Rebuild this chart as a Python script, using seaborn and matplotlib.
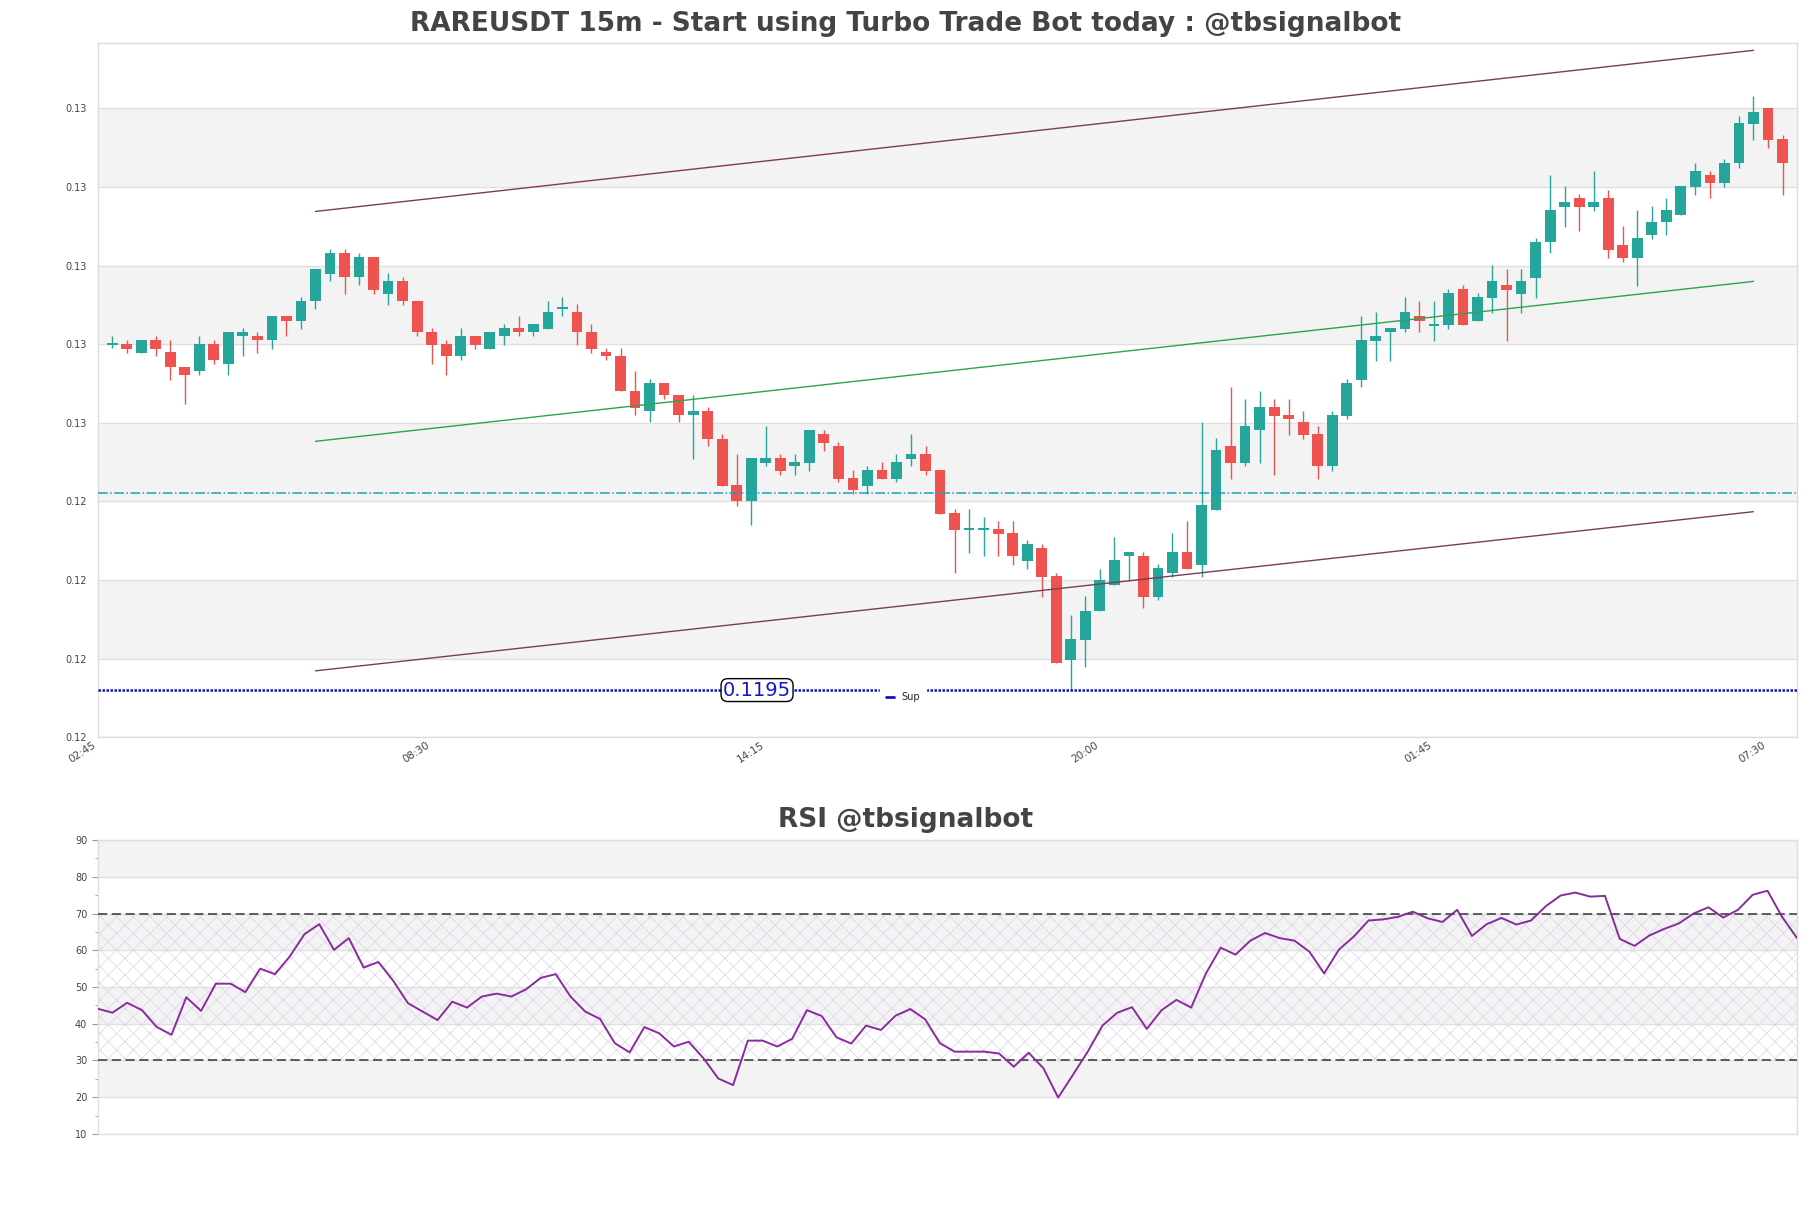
import numpy as np
import pandas as pd
import matplotlib
matplotlib.use('Agg')
import matplotlib.pyplot as plt
from matplotlib.lines import Line2D
from matplotlib.ticker import MultipleLocator
import seaborn as sns

# RAREUSDT 15m candles (03:00 -> 07:45 next day)
opens = [0.12830, 0.12831, 0.12809, 0.12841, 0.12811, 0.12773, 0.12761, 0.12831, 0.12781, 0.12850,
         0.12851, 0.12840, 0.12902, 0.12890, 0.12939, 0.13010, 0.13063, 0.13000, 0.13053, 0.12959,
         0.12991, 0.12941, 0.12862, 0.12831, 0.12799, 0.12851, 0.12819, 0.12850, 0.12872, 0.12860,
         0.12870, 0.12922, 0.12913, 0.12862, 0.12811, 0.12801, 0.12712, 0.12659, 0.12732, 0.12701,
         0.12649, 0.12660, 0.12590, 0.12472, 0.12430, 0.12529, 0.12541, 0.12519, 0.12529, 0.12602,
         0.12571, 0.12490, 0.12470, 0.12511, 0.12488, 0.12539, 0.12551, 0.12511, 0.12401, 0.12359,
         0.12359, 0.12360, 0.12350, 0.12279, 0.12312, 0.12240, 0.12027, 0.12078, 0.12150, 0.12218,
         0.12290, 0.12291, 0.12188, 0.12249, 0.12302, 0.12269, 0.12409, 0.12571, 0.12529, 0.12611,
         0.12671, 0.12650, 0.12632, 0.12602, 0.12519, 0.12648, 0.12740, 0.12839, 0.12860, 0.12870,
         0.12902, 0.12879, 0.12880, 0.12971, 0.12890, 0.12948, 0.12981, 0.12959, 0.12999, 0.13090,
         0.13180, 0.13202, 0.13180, 0.13202, 0.13083, 0.13050, 0.13109, 0.13140, 0.13160, 0.13231,
         0.13261, 0.13241, 0.13290, 0.13391, 0.13431, 0.13352]
highs = [0.12851, 0.12841, 0.12841, 0.12851, 0.12841, 0.12773, 0.12851, 0.12841, 0.12862, 0.12872,
         0.12862, 0.12902, 0.12902, 0.12951, 0.13022, 0.13073, 0.13073, 0.13063, 0.13053, 0.13012,
         0.13002, 0.12941, 0.12872, 0.12841, 0.12872, 0.12851, 0.12862, 0.12882, 0.12902, 0.12882,
         0.12941, 0.12951, 0.12933, 0.12882, 0.12820, 0.12820, 0.12763, 0.12742, 0.12732, 0.12701,
         0.12701, 0.12671, 0.12602, 0.12551, 0.12541, 0.12622, 0.12551, 0.12551, 0.12612, 0.12612,
         0.12581, 0.12511, 0.12521, 0.12530, 0.12551, 0.12602, 0.12571, 0.12511, 0.12410, 0.12410,
         0.12390, 0.12380, 0.12380, 0.12332, 0.12322, 0.12249, 0.12141, 0.12190, 0.12259, 0.12340,
         0.12302, 0.12302, 0.12271, 0.12350, 0.12380, 0.12632, 0.12592, 0.12721, 0.12691, 0.12711,
         0.12691, 0.12691, 0.12660, 0.12622, 0.12660, 0.12742, 0.12902, 0.12912, 0.12872, 0.12950,
         0.12940, 0.12940, 0.12971, 0.12981, 0.12961, 0.13032, 0.13022, 0.13022, 0.13101, 0.13261,
         0.13233, 0.13212, 0.13271, 0.13223, 0.13131, 0.13172, 0.13182, 0.13202, 0.13233, 0.13291,
         0.13271, 0.13302, 0.13412, 0.13462, 0.13431, 0.13363]
lows = [0.12820, 0.12809, 0.12809, 0.12799, 0.12740, 0.12679, 0.12751, 0.12781, 0.12751, 0.12799,
        0.12809, 0.12819, 0.12850, 0.12870, 0.12921, 0.12990, 0.12959, 0.12980, 0.12959, 0.12931,
        0.12931, 0.12850, 0.12781, 0.12751, 0.12789, 0.12819, 0.12819, 0.12829, 0.12850, 0.12850,
        0.12870, 0.12901, 0.12829, 0.12809, 0.12789, 0.12710, 0.12649, 0.12631, 0.12690, 0.12631,
        0.12539, 0.12570, 0.12470, 0.12419, 0.12369, 0.12519, 0.12498, 0.12498, 0.12508, 0.12559,
        0.12480, 0.12449, 0.12449, 0.12488, 0.12480, 0.12519, 0.12498, 0.12399, 0.12249, 0.12300,
        0.12290, 0.12290, 0.12269, 0.12259, 0.12188, 0.12019, 0.11950, 0.12010, 0.12150, 0.12218,
        0.12228, 0.12160, 0.12178, 0.12239, 0.12259, 0.12239, 0.12409, 0.12488, 0.12519, 0.12529,
        0.12498, 0.12600, 0.12590, 0.12488, 0.12508, 0.12640, 0.12720, 0.12788, 0.12788, 0.12860,
        0.12860, 0.12839, 0.12870, 0.12880, 0.12890, 0.12910, 0.12839, 0.12910, 0.12949, 0.13061,
        0.13129, 0.13119, 0.13170, 0.13050, 0.13040, 0.12979, 0.13099, 0.13109, 0.13160, 0.13211,
        0.13201, 0.13231, 0.13279, 0.13351, 0.13330, 0.13211]
closes = [0.12831, 0.12819, 0.12841, 0.12819, 0.12771, 0.12751, 0.12831, 0.12789, 0.12862, 0.12862,
          0.12840, 0.12902, 0.12890, 0.12941, 0.13022, 0.13063, 0.13000, 0.13053, 0.12969, 0.12991,
          0.12939, 0.12860, 0.12829, 0.12799, 0.12851, 0.12829, 0.12862, 0.12872, 0.12860, 0.12882,
          0.12913, 0.12923, 0.12860, 0.12819, 0.12799, 0.12710, 0.12669, 0.12732, 0.12700, 0.12649,
          0.12661, 0.12590, 0.12470, 0.12430, 0.12541, 0.12541, 0.12508, 0.12530, 0.12612, 0.12580,
          0.12488, 0.12459, 0.12511, 0.12488, 0.12530, 0.12551, 0.12508, 0.12399, 0.12358, 0.12360,
          0.12360, 0.12348, 0.12290, 0.12322, 0.12239, 0.12019, 0.12080, 0.12151, 0.12230, 0.12281,
          0.12302, 0.12188, 0.12261, 0.12302, 0.12259, 0.12420, 0.12561, 0.12529, 0.12622, 0.12671,
          0.12648, 0.12639, 0.12600, 0.12519, 0.12650, 0.12732, 0.12841, 0.12851, 0.12871, 0.12912,
          0.12890, 0.12880, 0.12961, 0.12880, 0.12950, 0.12991, 0.12969, 0.12991, 0.13090, 0.13172,
          0.13192, 0.13180, 0.13192, 0.13071, 0.13050, 0.13101, 0.13141, 0.13172, 0.13233, 0.13271,
          0.13241, 0.13291, 0.13393, 0.13421, 0.13351, 0.13290]

rsi = [44.1, 43.0, 45.7, 43.7, 39.1, 37.0, 47.2, 43.5, 50.9, 50.9, 48.6, 55.0, 53.5, 58.3, 64.4,
       67.1, 60.1, 63.3, 55.3, 56.8, 51.7, 45.6, 43.3, 41.0, 46.0, 44.4, 47.4, 48.2, 47.4, 49.4,
       52.5, 53.5, 47.4, 43.3, 41.3, 34.7, 32.2, 39.1, 37.4, 33.8, 35.1, 30.6, 25.1, 23.3, 35.4,
       35.4, 33.8, 35.9, 43.7, 42.1, 36.3, 34.6, 39.5, 38.3, 42.2, 44.0, 41.2, 34.7, 32.4, 32.4,
       32.4, 31.9, 28.3, 32.1, 27.9, 19.9, 26.1, 32.4, 39.5, 43.0, 44.5, 38.6, 43.7, 46.5, 44.4,
       53.7, 60.7, 58.8, 62.6, 64.7, 63.3, 62.6, 59.6, 53.7, 60.2, 63.7, 68.1, 68.4, 69.1, 70.5,
       68.7, 67.7, 71.0, 63.9, 67.1, 68.8, 67.0, 68.1, 72.0, 74.9, 75.7, 74.6, 74.8, 63.1, 61.2,
       64.0, 65.8, 67.3, 70.0, 71.7, 68.9, 71.0, 75.1, 76.2, 69.0, 63.3]

time_tick_pos = [-1, 22, 45, 68, 91, 114]
time_tick_labels = ['02:45', '08:30', '14:15', '20:00', '01:45', '07:30']
price_ticks = [0.1183, 0.1203, 0.1223, 0.1243, 0.1263, 0.1283, 0.1303, 0.1323, 0.1343]
price_top = 0.13596
rsi_ticks = [10, 20, 30, 40, 50, 60, 70, 80, 90]

# trend channel (start/end candle) and levels
chan_x = [14, 113]
chan_upper = [0.13168, 0.13578]
chan_mid = [0.12583, 0.12990]
chan_lower = [0.11999, 0.12404]
support = 0.1195
pivot = 0.12451

title = 'RAREUSDT 15m - Start using Turbo Trade Bot today : @tbsignalbot'

sns.set_theme(style='white', rc={'axes.edgecolor': '#dddddd', 'axes.linewidth': 1.0,
                                 'xtick.color': '#444444', 'ytick.color': '#444444',
                                 'hatch.linewidth': 0.5})

df = pd.DataFrame({'open': opens, 'high': highs, 'low': lows, 'close': closes})
df['idx'] = np.arange(len(df))
up = df['close'] >= df['open']
colors = np.where(up, '#26a69a', '#ef5350')

fig = plt.figure(figsize=(18.11, 12.08), dpi=100)
ax = fig.add_axes([0.0539, 0.3897, 0.9384, 0.5745])
ax2 = fig.add_axes([0.0539, 0.0613, 0.9384, 0.2433])

# ---- price panel ----
for k in (1, 3, 5, 7):
    ax.axhspan(price_ticks[k], price_ticks[k + 1], color='#f3f3f3', lw=0, zorder=0)
ax.set_yticks(price_ticks)
ax.set_yticklabels(['%.2f' % t for t in price_ticks])
ax.grid(axis='y', color='#e0e0e0', lw=1, zorder=0.5)
ax.set_axisbelow(True)

ax.vlines(df['idx'], df['low'], df['high'], colors=colors, lw=1, zorder=2)
body = (df['close'] - df['open']).abs().clip(lower=0.00004)
mid = (df['close'] + df['open']) / 2
ax.bar(df['idx'], body, bottom=mid - body / 2, width=0.74, color=colors, lw=0, zorder=3)

sns.lineplot(x=chan_x, y=chan_upper, ax=ax, color='#7d3c55', lw=1, zorder=4)
sns.lineplot(x=chan_x, y=chan_lower, ax=ax, color='#7d3c55', lw=1, zorder=4)
sns.lineplot(x=chan_x, y=chan_mid, ax=ax, color='#2ea44f', lw=1, zorder=4)

ax.axhline(pivot, color='#1a9fc4', ls='-.', lw=1.1, zorder=4)
ax.axhline(support, color='#1010c8', ls=(0, (1, 0.6)), lw=1.8, zorder=4)
ax.text(44.4, support, '%.4f' % support, color='#1515d0', fontsize=14, ha='center', va='center',
        zorder=6, bbox=dict(boxstyle='round,pad=0.1,rounding_size=0.35', fc='white', ec='black', lw=1))
ax.legend(handles=[Line2D([0], [0], color='#1010c8', lw=2)], labels=['Sup'], loc='center',
          bbox_to_anchor=(0.474, 0.058), fontsize=7, handlelength=0.8, frameon=True,
          facecolor='white', edgecolor='white', framealpha=1, borderpad=0.6)

ax.set_xlim(-1, len(df))
ax.set_ylim(price_ticks[0], price_top)
ax.set_xticks(time_tick_pos)
ax.set_xticklabels(time_tick_labels, rotation=33, ha='right')
ax.tick_params(axis='x', length=0, pad=2, labelsize=7.5)
ax.tick_params(axis='y', length=4, width=0, pad=3.5, labelsize=7)
ax.set_xlabel('')
ax.set_ylabel('')

# ---- RSI panel ----
for k in (1, 3, 5, 7):
    ax2.axhspan(rsi_ticks[k], rsi_ticks[k + 1], color='#f3f3f3', lw=0, zorder=0)
ax2.axhspan(30, 70, facecolor='none', edgecolor='#ddd2e8', hatch='xx', lw=0, zorder=0.6)
ax2.set_yticks(rsi_ticks)
ax2.yaxis.set_minor_locator(MultipleLocator(5))
ax2.grid(axis='y', color='#e0e0e0', lw=1, zorder=0.5)
ax2.set_axisbelow(True)
ax2.axhline(70, color='#333333', ls=(0, (6, 3)), lw=1.1, zorder=3)
ax2.axhline(30, color='#333333', ls=(0, (6, 3)), lw=1.1, zorder=3)
sns.lineplot(x=np.arange(len(rsi)), y=rsi, ax=ax2, color='#8a2b9d', lw=1.4, zorder=4)
ax2.set_xlim(0, len(rsi) - 1)
ax2.set_ylim(10, 90)
ax2.set_xticks([])
ax2.tick_params(axis='y', which='major', left=True, length=4, width=0.8, color='#999999',
                pad=3.5, labelsize=7)
ax2.tick_params(axis='y', which='minor', left=True, length=2.5, width=0.6, color='#999999')
ax2.set_xlabel('')
ax2.set_ylabel('')

fig.text(0.5, 0.980, title, ha='center', va='center', fontsize=19, fontweight='bold', color='#444444')
fig.text(0.5, 0.321, 'RSI @tbsignalbot', ha='center', va='center', fontsize=19, fontweight='bold',
         color='#444444')

fig.savefig('out.png', dpi=100)
